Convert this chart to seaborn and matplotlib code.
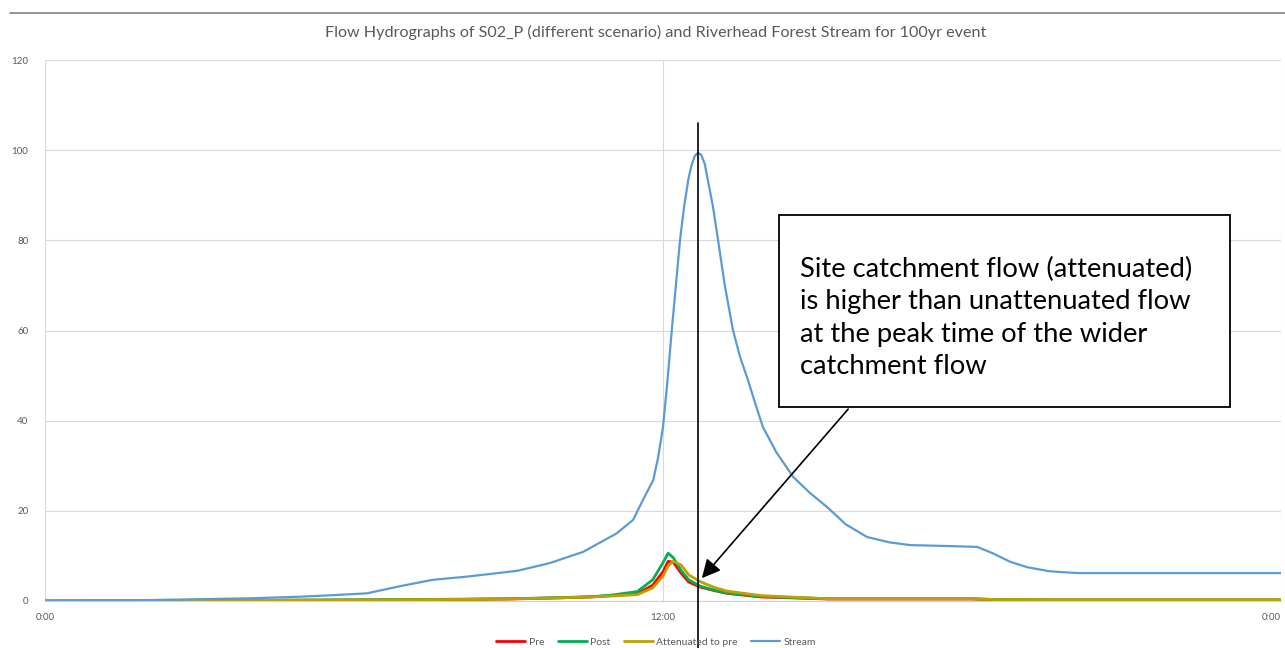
import matplotlib

matplotlib.use("Agg")
import matplotlib.pyplot as plt
import numpy as np
import pandas as pd
import seaborn as sns
from matplotlib.lines import Line2D
from matplotlib.patches import Rectangle

# Wider catchment (Riverhead Forest Stream) hydrograph, hours from 0:00
stream_hours = [0, 2, 3, 4, 4.95, 5.6, 6.25, 6.9, 7.53, 8.19, 9.17, 9.8, 10.45, 11.1,
                11.42, 11.61, 11.81, 11.9, 12.0, 12.08, 12.17, 12.25, 12.33, 12.41, 12.49,
                12.55, 12.62, 12.68, 12.74, 12.81, 12.87, 12.97, 13.07, 13.2, 13.36, 13.5,
                13.65, 13.8, 13.94, 14.2, 14.53, 14.85, 15.18, 15.55, 15.96, 16.4,
                16.8, 17.5, 18.1, 18.4, 18.74, 19.07, 19.5, 20.04, 21, 22, 23, 24]
stream_flow = [0, 0.2, 0.4, 0.6, 0.95, 1.3, 1.7, 3.3, 4.7, 5.4, 6.7, 8.4, 10.9, 15,
               18, 22.4, 26.8, 31.5, 38.6, 48, 60, 70, 80, 87.5, 93.4,
               96.5, 98.8, 99.4, 99.0, 97, 93.4, 87.5, 80, 70, 60, 54,
               49, 43.5, 38.6, 33, 27.5, 24, 20.9, 17, 14.2, 13,
               12.4, 12.2, 12.0, 10.6, 8.7, 7.5, 6.6, 6.2, 6.2, 6.2, 6.2, 6.2]

# Site catchment S02_P hydrographs
site_hours = [0, 3, 6, 8, 9, 10, 10.6, 11, 11.5, 11.8, 12.0, 12.1, 12.2, 12.35, 12.5,
              12.72, 13.0, 13.24, 13.9, 15.2, 18.0, 18.5, 19.5, 24]
pre_flow = [0, 0.1, 0.2, 0.35, 0.45, 0.7, 0.9, 1.2, 1.6, 3.5, 6.5, 8.8, 8.6, 6.2, 4.2,
            3.1, 2.3, 1.7, 0.9, 0.45, 0.45, 0.25, 0.2, 0.2]
post_flow = [0, 0.1, 0.25, 0.4, 0.5, 0.75, 0.95, 1.3, 2.1, 4.7, 8.5, 10.6, 9.6, 6.8, 4.7,
             3.3, 2.4, 1.8, 1.0, 0.5, 0.5, 0.3, 0.25, 0.25]
attenuated_flow = [0, 0.1, 0.2, 0.35, 0.45, 0.7, 0.9, 1.1, 1.4, 2.9, 5.5, 7.8, 8.8, 8.0, 5.8,
                   4.3, 3.0, 2.2, 1.2, 0.5, 0.5, 0.3, 0.25, 0.25]

series_names = ["Pre", "Post", "Attenuated to pre", "Stream"]
series_colors = ["#FF0000", "#00B050", "#BFA000", "#5B9BD5"]
x_ticks = [0, 12, 24]
x_tick_labels = ["0:00", "12:00", "0:00"]
y_ticks = [0, 20, 40, 60, 80, 100, 120]

title = "Flow Hydrographs of S02_P (different scenario) and Riverhead Forest Stream for 100yr event"
note = ("Site catchment flow (attenuated)\nis higher than unattenuated flow\n"
        "at the peak time of the wider\ncatchment flow")

site_df = pd.DataFrame({"Hours": site_hours, "Pre": pre_flow, "Post": post_flow,
                        "Attenuated to pre": attenuated_flow})
site_long = site_df.melt(id_vars="Hours", var_name="Series", value_name="Flow")
stream_df = pd.DataFrame({"Hours": stream_hours, "Flow": stream_flow, "Series": "Stream"})
plot_df = pd.concat([site_long, stream_df], ignore_index=True)

sns.set_style("white")
plt.rcParams["font.family"] = ["Lato", "DejaVu Sans"]

W, H = 1285, 648
fig = plt.figure(figsize=(W / 100, H / 100), dpi=100)
ax = fig.add_axes([45 / W, 1 - 601 / H, (1281 - 45) / W, (601 - 60) / H])

sns.lineplot(data=plot_df, x="Hours", y="Flow", hue="Series", hue_order=series_names,
             palette=series_colors, linewidth=2.0, ax=ax, sort=True, estimator=None)
# thinner stream line like the original
for line in ax.get_lines():
    if line.get_color() in ("#5B9BD5", "#5b9bd5"):
        line.set_linewidth(1.6)

ax.set_xlim(0, 24)
ax.set_ylim(0, 120)
ax.set_xticks(x_ticks)
ax.set_xticklabels(x_tick_labels)
ax.set_yticks(y_ticks)
ax.set_xlabel("")
ax.set_ylabel("")
ax.grid(True, color="#D9D9D9", linewidth=0.8)
ax.set_axisbelow(True)
for side in ["top", "right", "left"]:
    ax.spines[side].set_visible(False)
ax.spines["bottom"].set_color("#D0D0D0")
ax.tick_params(axis="both", length=0, labelsize=7, labelcolor="#595959")
ax.tick_params(axis="y", pad=12)
ax.tick_params(axis="x", pad=9)
# keep the last "0:00" inside the picture
ax.get_xticklabels()[-1].set_horizontalalignment("right")

handles, labels = ax.get_legend_handles_labels()
ax.legend(handles, labels, loc="center", ncol=4, frameon=False, fontsize=7.5,
          handlelength=2.8, columnspacing=1.3, handletextpad=0.3,
          labelcolor="#595959")
ax.get_legend().set_bbox_to_anchor((656 / W, 1 - 642 / H), transform=fig.transFigure)

fig.text(0.51, 1 - 32 / H, title, ha="center", va="center", fontsize=11.6, color="#595959")
fig.add_artist(Line2D([10 / W, 1], [1 - 13 / H, 1 - 13 / H], color="#808080", lw=1.2))

# vertical marker at the stream peak time
peak_hour = stream_hours[int(np.argmax(stream_flow))]
ax.axvline(peak_hour, ymin=-(648 - 601) / 541, ymax=(601 - 123) / 541,
           color="black", lw=1.2, clip_on=False, zorder=5)

# annotation box
fig.add_artist(Rectangle((779 / W, 1 - 407 / H), (1230 - 779) / W, (407 - 215) / H,
                         transform=fig.transFigure, facecolor="white",
                         edgecolor="black", lw=1.3, zorder=6))
fig.text(800 / W, 1 - 318 / H, note, ha="left", va="center", fontsize=19.7,
         linespacing=1.38, color="black", zorder=7)
ax.annotate("", xy=(peak_hour + 0.04, 4.6), xycoords="data",
            xytext=(850, H - 407), textcoords="figure pixels",
            arrowprops=dict(arrowstyle="-|>", color="black", lw=1.2, mutation_scale=28),
            zorder=6, annotation_clip=False)

fig.savefig("out.png", dpi=100)
